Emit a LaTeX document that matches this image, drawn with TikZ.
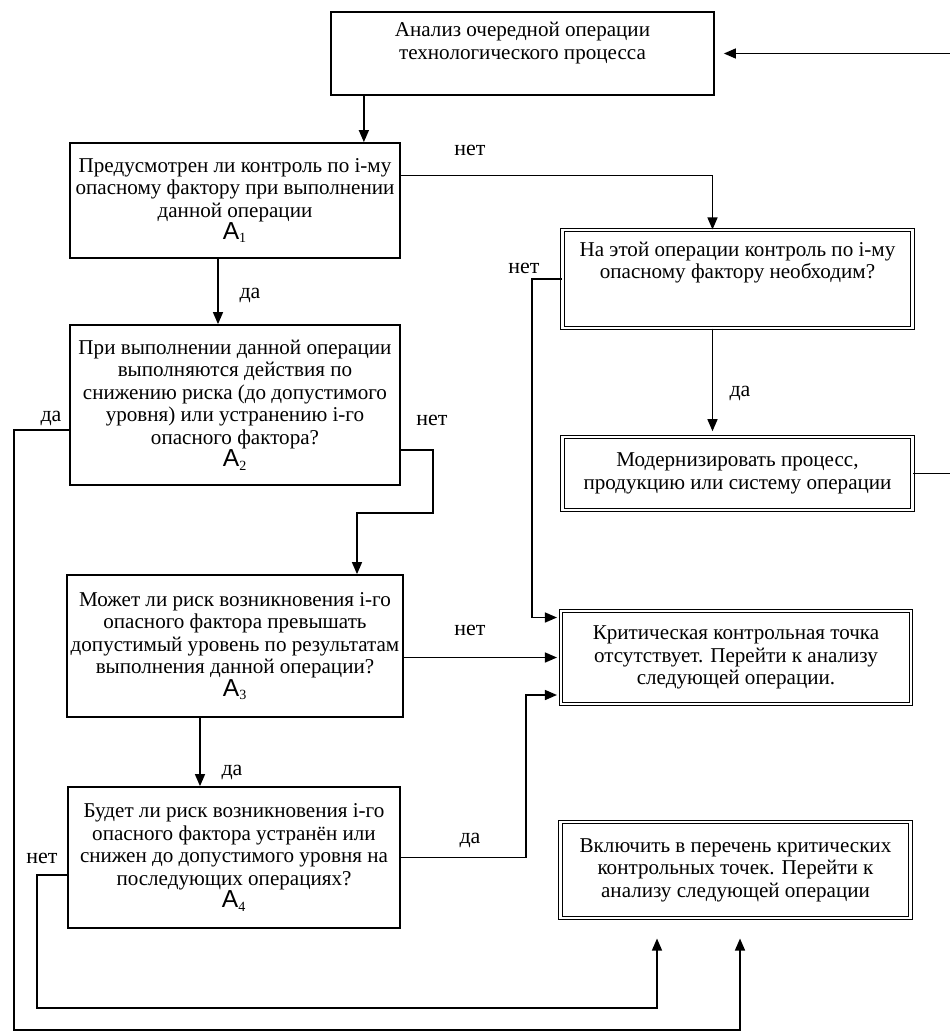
\documentclass[tikz,border=0pt]{standalone}
\usepackage{fontspec}
\setmainfont{Liberation Serif}
\setsansfont{Liberation Sans}
\usetikzlibrary{positioning, calc, arrows.meta}

\newcommand{\Aind}[1]{{\fontsize{14}{14}\selectfont\textsf{A}}\textsubscript{#1}}

\begin{document}
\begin{tikzpicture}[
    thick,
    step box/.style={draw, rectangle, line width=1pt, minimum width=6.6cm, align=center, fill=white, inner sep=2pt, font=\fontsize{12}{12.8}\selectfont},
    result box/.style={draw, double, line width=0.6pt, double distance=1.6pt, rectangle, minimum width=7.0cm, align=center, fill=white, inner sep=2pt, font=\fontsize{12}{12.8}\selectfont},
    answer/.style={font=\fontsize{12.5}{14}\selectfont, inner sep=1pt},
    arr/.style={-{Triangle[length=2.4mm, width=2mm]}}
]
    \useasboundingbox (0,0) rectangle (18.98,-20.72);

    % ================= MAIN COLUMN =================
    \node[step box, minimum width=7.66cm, minimum height=1.66cm, text depth=0.5cm] (TOP) at (10.45,-1.07) {Анализ очередной операции\\технологического процесса};
    \node[step box, minimum height=2.3cm] (A1) at (4.70,-4.01) {Предусмотрен ли контроль по i-му\\опасному фактору при выполнении\\данной операции\\\Aind{1}};
    \node[step box, minimum height=3.2cm] (A2) at (4.70,-8.10) {При выполнении данной операции\\выполняются действия по\\снижению риска (до допустимого\\уровня) или устранению i-го\\опасного фактора?\\\Aind{2}};
    \node[step box, minimum height=2.84cm] (A3) at (4.70,-12.92) {Может ли риск возникновения i-го\\опасного фактора превышать\\допустимый уровень по результатам\\выполнения данной операции?\\\Aind{3}};
    \node[step box, minimum width=6.64cm, minimum height=2.82cm] (A4) at (4.68,-17.15) {Будет ли риск возникновения i-го\\опасного фактора устранён или\\снижен до допустимого уровня на\\последующих операциях?\\\Aind{4}};

    % ================= RIGHT COLUMN =================
    \node[result box, minimum height=1.96cm, text depth=0.75cm] (NEED) at (14.75,-5.58) {На этой операции контроль по i-му\\опасному фактору необходим?};
    \node[result box, minimum height=1.46cm] (MOD) at (14.75,-9.47) {Модернизировать процесс,\\продукцию или систему операции};
    \node[result box, minimum height=1.86cm] (CRIT) at (14.72,-13.15) {Критическая контрольная точка\\отсутствует. Перейти к анализу\\следующей операции.};
    \node[result box, minimum height=1.92cm] (INCL) at (14.71,-17.40) {Включить в перечень критических\\контрольных точек. Перейти к\\анализу следующей операции};

    % ================= CONNECTIONS =================
    \draw[arr] ([xshift=-0.74cm]A1.north east |- TOP.south) -- ([xshift=-0.74cm]A1.north east);
    \draw[arr] ([yshift=0.5cm]A1.east) -| ([xshift=-0.5cm]NEED.north);
    \draw[arr, shorten >=2pt] (NEED.west) -- ++(-0.6,0) |- ([yshift=0.8cm]CRIT.west);
    \draw[arr, shorten >=3pt] ([xshift=-0.5cm]NEED.south) -- ([xshift=-0.5cm]MOD.north);
    \draw[arr, shorten >=0.18cm] (MOD.east) -- ++(1.3,0) |- (TOP.east);

    \draw[arr] ([xshift=-0.34cm]A1.south) -- ([xshift=-0.34cm]A2.north);
    \draw[arr] ([yshift=-0.9cm]A2.east) -- ++(0.64,0) -- ++(0,-1.26) -| ([xshift=2.44cm]A3.north);
    \draw[arr, shorten >=0.4cm] ([yshift=-0.5cm]A2.west) -- ++(-1.1,0) -- ++(0,-12.0) -| ([xshift=0.09cm]INCL.south);

    \draw[arr, shorten >=2pt] (A3.east |- CRIT.west) -- (CRIT.west);
    \draw[arr] ([xshift=-0.7cm]A3.south) -- ([xshift=-0.7cm]A3.south |- A4.north);

    \draw[arr, shorten >=2pt] (A4.east) -- ++(2.5,0) |- ([yshift=-0.75cm]CRIT.west);
    \draw[arr, shorten >=0.4cm] ([yshift=-0.35cm]A4.west) -- ++(-0.6,0) -- ++(0,-2.66) -| ([xshift=-1.57cm]INCL.south);

    % ================= ANSWERS =================
    \node[answer] (noA1) at (9.4,-3.0) {нет};
    \node[answer] (noNEED) at (10.48,-5.36) {нет};
    \node[answer] (yesNEED) at (14.8,-7.86) {да};
    \node[answer] (yesA2) at (1.02,-8.36) {да};
    \node[answer] (yesA1) at (5.0,-5.9) {да};
    \node[answer] (noA2) at (8.64,-8.4) {нет};
    \node[answer] (noA3) at (9.4,-12.6) {нет};
    \node[answer] (yesA3) at (4.64,-15.44) {да};
    \node[answer] (yesA4) at (9.4,-16.8) {да};
    \node[answer] (noA4) at (0.84,-17.16) {нет};

\end{tikzpicture}
\end{document}
